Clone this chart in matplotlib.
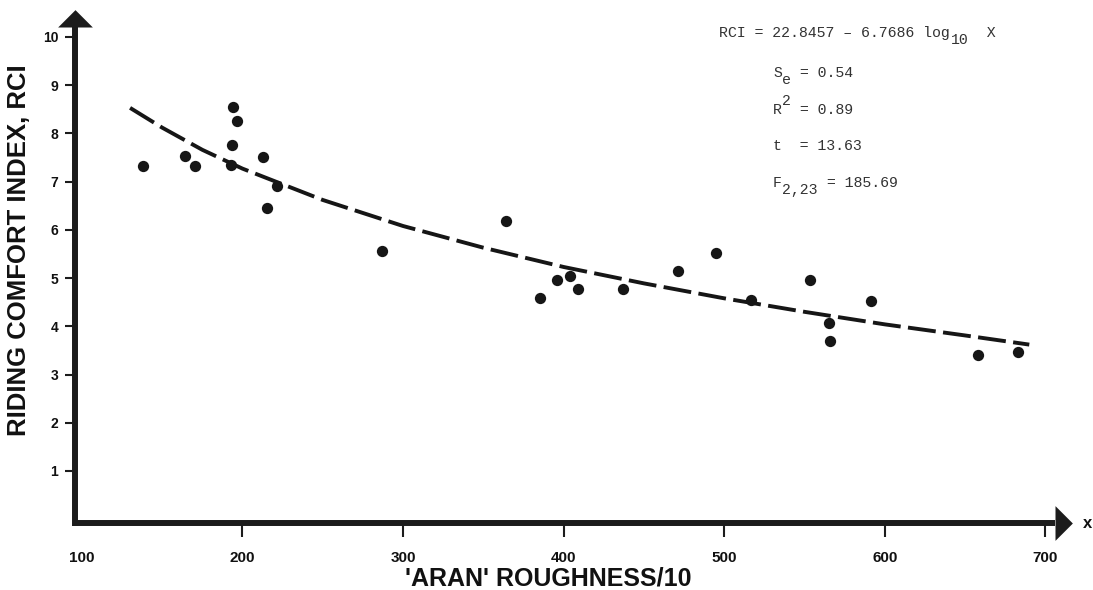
import matplotlib
matplotlib.use('Agg')
import matplotlib.pyplot as plt

# ---- data ----
roughness = [137.9, 164.3, 170.7, 194.0, 196.4, 193.7, 192.7, 213.0, 221.4, 215.1,
             286.7, 363.9, 385.3, 395.7, 404.0, 408.8, 437.2, 471.0, 494.9, 516.5,
             553.4, 591.2, 565.3, 565.9, 657.8, 683.1]
rci = [7.33, 7.54, 7.33, 8.55, 8.26, 7.76, 7.34, 7.52, 6.92, 6.45,
       5.56, 6.18, 4.58, 4.97, 5.05, 4.77, 4.77, 5.15, 5.52, 4.54,
       4.96, 4.53, 4.06, 3.70, 3.40, 3.47]

fit_x = [130, 150, 175, 200, 250, 300, 350, 400, 450, 500, 550, 600, 650, 690]
fit_y = [8.53, 8.12, 7.66, 7.27, 6.62, 6.08, 5.63, 5.23, 4.89, 4.58, 4.30, 4.04, 3.81, 3.62]

x_ticks = [100, 200, 300, 400, 500, 600, 700]
y_ticks = [1, 2, 3, 4, 5, 6, 7, 8, 9, 10]

# annotation pieces: (main text, script text, script shift, rest)
eq_parts = ('RCI = 22.8457 – 6.7686 log', '10', 'sub', '  X')
stat_parts = [('S', 'e', 'sub', ' = 0.54'),
              ('R', '2', 'sup', ' = 0.89'),
              ('t  = 13.63', '', 'none', ''),
              ('F', '2,23', 'sub', ' = 185.69')]

x_label = "'ARAN' ROUGHNESS/10"
y_label = 'RIDING COMFORT INDEX, RCI'

# ---- figure ----
W, H = 1093, 590
fig = plt.figure(figsize=(W / 100, H / 100), dpi=100)
left_px, right_px, top_px, bottom_px = 75, 1072, 10, 523
ax = fig.add_axes([left_px / W, 1 - bottom_px / H,
                   (right_px - left_px) / W, (bottom_px - top_px) / H])
x0, x1 = 95.7, 716.6
y0, y1 = -0.08, 10.56
ax.set_xlim(x0, x1)
ax.set_ylim(y0, y1)
for s in ax.spines.values():
    s.set_visible(False)

axis_color = '#1c1c1c'
xbase = x1 - 10.6
ybase = y1 - 0.35
ax.plot([x0, xbase], [y0, y0], color=axis_color, lw=4.3, solid_capstyle='butt', clip_on=False, zorder=3)
ax.plot([x0, x0], [y0 - 0.06, ybase], color=axis_color, lw=4.3, solid_capstyle='butt', clip_on=False, zorder=3)
ax.plot([xbase], [y0], marker=[(0, -1), (0, 1), (1, 0)], markersize=25, color=axis_color,
        markeredgewidth=0, clip_on=False, zorder=3)
ax.plot([x0], [ybase], marker=[(-1, 0), (1, 0), (0, 1)], markersize=25, color=axis_color,
        markeredgewidth=0, clip_on=False, zorder=3)

# fit curve
ax.plot(fit_x, fit_y, color='#161616', lw=2.8, linestyle=(0, (7.2, 1.9)), zorder=2)
# points
ax.scatter(roughness, rci, s=66, color='#161616', zorder=4, linewidths=0)

# ticks
ax.set_xticks(x_ticks)
ax.set_yticks(y_ticks)
ax.set_xticklabels([str(v) for v in x_ticks])
ax.set_yticklabels([str(v) for v in y_ticks])
ax.tick_params(axis='x', direction='out', length=10, width=1.5, pad=10, colors=axis_color)
ax.tick_params(axis='y', direction='out', length=7, width=1.5, pad=5, colors=axis_color)
ax.xaxis.get_major_ticks()[0].tick1line.set_visible(False)
bold_family = ['Liberation Sans', 'DejaVu Sans']
for lbl in ax.get_xticklabels():
    lbl.set_fontfamily(bold_family)
    lbl.set_fontweight('bold')
    lbl.set_fontsize(11)
    lbl.set_color('#111111')
for lbl in ax.get_yticklabels():
    lbl.set_fontfamily(bold_family)
    lbl.set_fontweight('bold')
    lbl.set_fontsize(10)
    lbl.set_color('#111111')

# axis titles
fig.text(548 / W, 1 - 578 / H, x_label, ha='center', va='center', fontsize=18,
         fontweight='bold', family=bold_family, color='#111111')
fig.text(19 / W, 1 - 250 / H, y_label, ha='center', va='center', rotation=90, fontsize=18.5,
         fontweight='bold', family=bold_family, color='#111111')
fig.text(1083 / W, 1 - 523 / H, 'x', ha='left', va='center', fontsize=12,
         fontweight='bold', family=bold_family, color='#111111')

# annotation (typewriter style, full-size sub/superscripts)
mono = ['Liberation Mono', 'DejaVu Sans Mono']
fs = 10.7
cw = 0.6 * fs / 72 * 100  # monospace character width in pixels
shift = {'sub': 7, 'sup': -9, 'none': 0}


def put(parts, xpx, ybase_px):
    main, script, kind, rest = parts
    kw = dict(ha='left', va='baseline', fontsize=fs, family=mono, color='#333333')
    fig.text(xpx / W, 1 - ybase_px / H, main, **kw)
    xs = xpx + len(main) * cw
    if script:
        fig.text(xs / W, 1 - (ybase_px + shift[kind]) / H, script, **kw)
        xs += len(script) * cw
    if rest:
        fig.text(xs / W, 1 - ybase_px / H, rest, **kw)


put(eq_parts, 719, 37)
for parts, yb in zip(stat_parts, [77, 114, 150, 187]):
    put(parts, 773, yb)

fig.savefig('out.png', dpi=100)
